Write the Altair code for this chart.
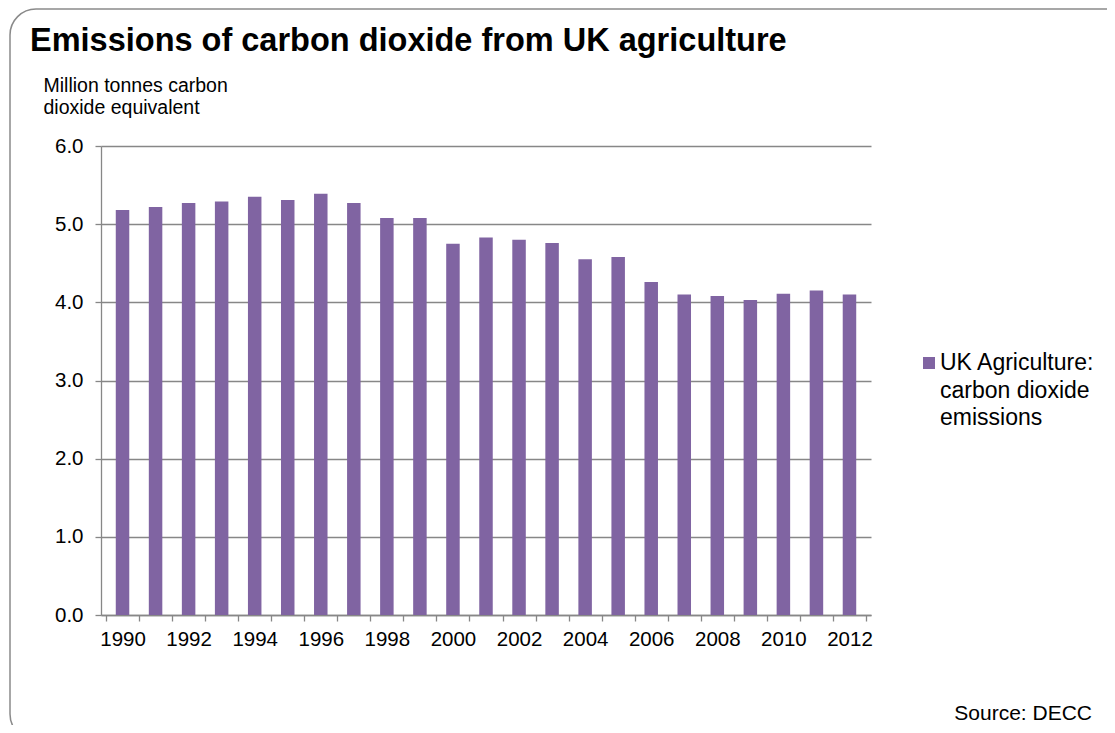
import altair as alt
import pandas as pd

# ---- data ----
years = [1990, 1991, 1992, 1993, 1994, 1995, 1996, 1997, 1998, 1999, 2000, 2001,
         2002, 2003, 2004, 2005, 2006, 2007, 2008, 2009, 2010, 2011, 2012]
emissions = [5.18, 5.22, 5.27, 5.29, 5.35, 5.31, 5.39, 5.27, 5.08, 5.08, 4.75, 4.83,
             4.80, 4.76, 4.55, 4.58, 4.26, 4.10, 4.08, 4.03, 4.11, 4.15, 4.10]
series_name = "UK Agriculture: carbon dioxide emissions"
legend_lines = ["UK Agriculture:", "carbon dioxide", "emissions"]
y_ticks = [0, 1, 2, 3, 4, 5, 6]
title_text = "Emissions of carbon dioxide from UK agriculture"
y_title_lines = ["Million tonnes carbon", "dioxide equivalent"]
source_text = "Source: DECC"

FONT = "Liberation Sans, Arial, sans-serif"
PURPLE = "#8064A2"
GREY = "#878787"

df = pd.DataFrame({"year": years, "value": emissions, "series": series_name})

tick_bounds = [y - 0.5 for y in years] + [years[-1] + 0.5]
label_years = years[::2]

x_axis = alt.Axis(
    values=tick_bounds + label_years,
    labelExpr="datum.value % 2 == 0 ? datum.value : ''",
    tickOpacity={"condition": {"test": "datum.value % 1 != 0", "value": 1}, "value": 0},
    grid=False,
    title=None,
    domainColor=GREY,
    domainWidth=1.3,
    tickColor=GREY,
    tickWidth=1.3,
    tickSize=6,
    labelPadding=8,
    labelFont=FONT,
    labelFontSize=20.5,
    labelColor="#000000",
    labelOverlap=False,
    labelFlush=False,
    labelBaseline="top",
)

y_axis = alt.Axis(
    values=y_ticks,
    format=".1f",
    grid=True,
    gridColor=GREY,
    gridWidth=1.3,
    domainColor=GREY,
    domainWidth=1.3,
    tickColor=GREY,
    tickWidth=1.3,
    tickSize=6,
    labelPadding=12,
    labelFont=FONT,
    labelFontSize=20.5,
    labelColor="#000000",
    title=y_title_lines,
    titleAngle=0,
    titleAlign="left",
    titleBaseline="alphabetic",
    titleX=-58,
    titleY=-55,
    titleFont=FONT,
    titleFontSize=19.5,
    titleFontWeight="normal",
    titleColor="#000000",
    titleLineHeight=22,
)

bars = alt.Chart(df).mark_bar(size=13.5, color=PURPLE).encode(
    x=alt.X("year:Q", scale=alt.Scale(domain=[1989.5, 2012.5], nice=False, zero=False), axis=x_axis),
    y=alt.Y("value:Q", scale=alt.Scale(domain=[0, 6], nice=False), axis=y_axis),
    tooltip=["year:O", "value:Q", "series:N"],
)

one = pd.DataFrame({"k": [0]})

border = alt.Chart(one).mark_rect(
    fillOpacity=0, stroke="#8a8a8a", strokeWidth=1.5, cornerRadius=26
).encode(
    x=alt.value(-91), x2=alt.value(1032), y=alt.value(-137), y2=alt.value(594)
)

title = alt.Chart(pd.DataFrame({"t": [title_text]})).mark_text(
    align="left", baseline="alphabetic", font=FONT, fontSize=32.5, fontWeight="bold", color="#000000"
).encode(text="t:N", x=alt.value(-71), y=alt.value(-95))

legend_sq = alt.Chart(pd.DataFrame({"s": [series_name]})).mark_square(
    size=144, color=PURPLE, opacity=1
).encode(x=alt.value(828), y=alt.value(217))

legend_txt = alt.Chart(one).mark_text(
    align="left", baseline="alphabetic", font=FONT, fontSize=23, lineHeight=27.5,
    color="#000000", text=legend_lines
).encode(x=alt.value(839), y=alt.value(224))

source = alt.Chart(pd.DataFrame({"t": [source_text]})).mark_text(
    align="right", baseline="alphabetic", font=FONT, fontSize=21, color="#000000"
).encode(text="t:N", x=alt.value(991), y=alt.value(574))

chart = alt.layer(border, bars, title, legend_sq, legend_txt, source).properties(
    width=770,
    height=469,
    autosize=alt.AutoSizeParams(type="none"),
    padding={"left": 93, "top": 138, "right": 236, "bottom": 110},
    background="white",
).configure_view(stroke=None)

chart.save("out.html", embed_options={"renderer": "svg", "actions": False})
